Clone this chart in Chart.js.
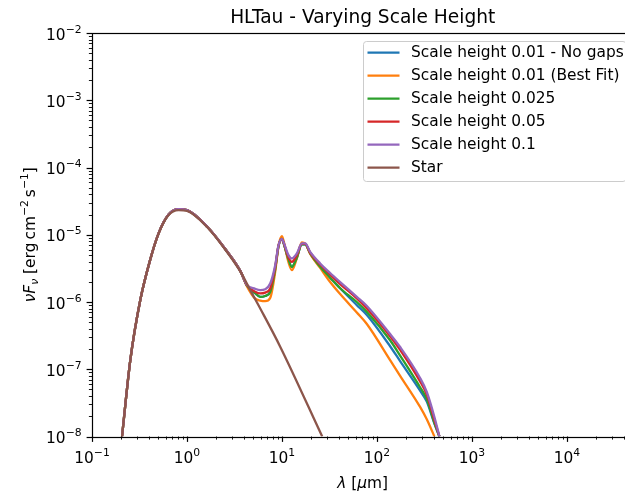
<!DOCTYPE html>
<html><head><meta charset="utf-8">
<script src="https://cdn.jsdelivr.net/npm/chart.js@4.4.1/dist/chart.umd.min.js"></script>
<style>
html,body{margin:0;padding:0;overflow:hidden;background:#fff;}
#wrap{position:relative;width:640px;height:493px;}
</style></head><body>
<div id="wrap"><canvas id="c" width="640" height="493"></canvas></div>
<script>
// ---------- data (wavelength in micron, nuFnu in erg cm^-2 s^-1) ----------
const titleText = 'HLTau - Varying Scale Height';
const seriesLabels = ['Scale height 0.01 - No gaps', 'Scale height 0.01 (Best Fit)', 'Scale height 0.025', 'Scale height 0.05', 'Scale height 0.1', 'Star'];
const seriesColors = ['#1f77b4', '#ff7f0e', '#2ca02c', '#d62728', '#9467bd', '#8c564b'];

const diskLambda = [0.207, 0.253, 0.322, 0.404, 0.502, 0.640, 0.815, 1.0, 1.67, 2.47, 3.64, 4.27, 5.22, 5.90, 6.65, 7.51, 8.48, 9.19, 9.97, 10.37, 11.70, 12.70, 14.34, 16.18, 17.54, 19.80, 25.22, 32.13, 40.94, 61.3, 78.2, 137.4, 175.1, 284.2, 334.2, 402, 454];
const noGapsFlux = [1e-8, 1.36e-7, 1.06e-6, 3.95e-6, 1.05e-5, 2.0e-5, 2.4e-5, 2.33e-5, 1.27e-5, 6.4e-6, 2.9e-6, 1.76e-6, 1.35e-6, 1.19e-6, 1.23e-6, 1.41e-6, 3.1e-6, 6.8e-6, 8.7e-6, 7.6e-6, 4.3e-6, 3.33e-6, 4.6e-6, 7.2e-6, 7.2e-6, 5.3e-6, 3.35e-6, 2.3e-6, 1.6e-6, 9.0e-7, 6.4e-7, 2.2e-7, 1.32e-7, 4.8e-8, 3.3e-8, 1.55e-8, 1e-8];
const bestFitFlux = [1e-8, 1.36e-7, 1.06e-6, 3.95e-6, 1.05e-5, 2.0e-5, 2.4e-5, 2.33e-5, 1.27e-5, 6.4e-6, 2.9e-6, 1.72e-6, 1.12e-6, 1.05e-6, 1.03e-6, 1.15e-6, 2.81e-6, 6.8e-6, 9.5e-6, 8.2e-6, 3.9e-6, 2.97e-6, 4.5e-6, 7.7e-6, 7.4e-6, 5.2e-6, 3.21e-6, 1.98e-6, 1.31e-6, 6.98e-7, 4.71e-7, 1.37e-7, 8.0e-8, 2.75e-8, 1.8e-8, 1e-8, null];
const h025Flux = [1e-8, 1.36e-7, 1.06e-6, 3.95e-6, 1.05e-5, 2.0e-5, 2.4e-5, 2.33e-5, 1.27e-5, 6.4e-6, 2.9e-6, 1.76e-6, 1.35e-6, 1.19e-6, 1.23e-6, 1.41e-6, 3.1e-6, 6.8e-6, 8.7e-6, 7.6e-6, 4.3e-6, 3.33e-6, 4.6e-6, 7.2e-6, 7.2e-6, 5.3e-6, 3.35e-6, 2.3e-6, 1.6e-6, 1.0e-6, 7.13e-7, 2.7e-7, 1.6e-7, 5.4e-8, 3.6e-8, 1.6e-8, 1e-8];
const h05Flux = [1e-8, 1.36e-7, 1.06e-6, 3.95e-6, 1.05e-5, 2.0e-5, 2.4e-5, 2.33e-5, 1.27e-5, 6.4e-6, 2.9e-6, 1.78e-6, 1.42e-6, 1.34e-6, 1.38e-6, 1.59e-6, 3.3e-6, 6.9e-6, 8.7e-6, 7.7e-6, 4.6e-6, 3.95e-6, 4.97e-6, 7.3e-6, 7.3e-6, 5.4e-6, 3.6e-6, 2.55e-6, 1.85e-6, 1.13e-6, 8.0e-7, 3.1e-7, 1.95e-7, 6.6e-8, 4.2e-8, 1.75e-8, 1e-8];
const h1Flux = [1e-8, 1.36e-7, 1.06e-6, 3.95e-6, 1.05e-5, 2.0e-5, 2.4e-5, 2.33e-5, 1.27e-5, 6.4e-6, 2.9e-6, 1.80e-6, 1.57e-6, 1.50e-6, 1.55e-6, 1.88e-6, 3.53e-6, 7.0e-6, 8.7e-6, 7.83e-6, 4.97e-6, 4.44e-6, 5.27e-6, 7.43e-6, 7.43e-6, 5.57e-6, 3.74e-6, 2.70e-6, 1.98e-6, 1.19e-6, 8.72e-7, 3.34e-7, 2.14e-7, 7.41e-8, 4.59e-8, 1.95e-8, 1e-8];

const starLambda = [0.207, 0.253, 0.322, 0.404, 0.502, 0.640, 0.815, 1.0, 1.67, 2.47, 3.64, 4.63, 5.90, 9.6, 26.5];
const starFlux = [1e-8, 1.36e-7, 1.06e-6, 3.95e-6, 1.04e-5, 1.96e-5, 2.32e-5, 2.26e-5, 1.25e-5, 6.3e-6, 2.85e-6, 1.5e-6, 8.0e-7, 2.15e-7, 1e-8];

const xTickExponents = [-1, 0, 1, 2, 3, 4];
const yTickExponents = [-8, -7, -6, -5, -4, -3, -2];
const xRange = [0.1, 5e4];
const yRange = [1e-8, 1e-2];

// ---------- helpers ----------
function pts(xs, ys) {
  const out = [];
  xs.forEach((x, i) => { if (ys[i] !== null) out.push({x: x, y: ys[i]}); });
  return out;
}
const FONT = '"DejaVu Sans", sans-serif';
const FS = 15.4;
const LW = 2.3;

const allSeries = [
  pts(diskLambda, noGapsFlux),
  pts(diskLambda, bestFitFlux),
  pts(diskLambda, h025Flux),
  pts(diskLambda, h05Flux),
  pts(diskLambda, h1Flux),
  pts(starLambda, starFlux)
];

function drawRich(ctx, parts, x, y, align) {
  const fontFor = p => (p.i ? 'italic ' : '') + ((p.sup || p.sub) ? FS * 0.7 : FS) + 'px ' + FONT;
  let w = 0;
  parts.forEach(p => { ctx.font = fontFor(p); p.w = ctx.measureText(p.t).width; w += p.w; });
  let cx = align === 'center' ? x - w / 2 : (align === 'right' ? x - w : x);
  ctx.textBaseline = 'alphabetic';
  ctx.textAlign = 'left';
  parts.forEach(p => {
    ctx.font = fontFor(p);
    let dy = 0;
    if (p.sup) dy = -FS * 0.45;
    if (p.sub) dy = FS * 0.2;
    ctx.fillText(p.t, cx, y + dy);
    cx += p.w;
  });
}
function powParts(e) {
  return [{t: '10'}, {t: (e < 0 ? '\u2212' : '') + Math.abs(e), sup: true}];
}

const decorations = {
  id: 'decorations',
  afterDraw(chart) {
    const {ctx, chartArea: a, scales} = chart;
    const xs = scales.x, ys = scales.y;
    ctx.save();
    ctx.strokeStyle = '#000';
    function seg(x1, y1, x2, y2, lw) { ctx.lineWidth = lw; ctx.beginPath(); ctx.moveTo(x1, y1); ctx.lineTo(x2, y2); ctx.stroke(); }
    for (let e = -1; e <= 4; e++) {
      for (let m = 1; m < 10; m++) {
        const v = m * Math.pow(10, e);
        if (v > xRange[1]) break;
        const px = Math.round(xs.getPixelForValue(v)) + 0.5;
        if (m === 1) seg(px, a.bottom, px, a.bottom + 5.4, 1.2);
        else seg(px, a.bottom, px, a.bottom + 3.1, 0.9);
      }
    }
    for (let e = -8; e <= -2; e++) {
      for (let m = 1; m < 10; m++) {
        const v = m * Math.pow(10, e);
        if (v > yRange[1] * 1.0001) break;
        const py = Math.round(ys.getPixelForValue(v)) + 0.5;
        if (m === 1) seg(a.left, py, a.left - 5.4, py, 1.2);
        else seg(a.left, py, a.left - 3.1, py, 0.9);
      }
    }
    ctx.lineWidth = 1.2;
    ctx.strokeRect(Math.round(a.left) + 0.5, Math.round(a.top) + 0.5, a.right - a.left, Math.round(a.bottom) - Math.round(a.top));
    ctx.fillStyle = '#000';
    xTickExponents.forEach(e => {
      const px = xs.getPixelForValue(Math.pow(10, e));
      drawRich(ctx, powParts(e), px, 463, 'center');
    });
    yTickExponents.forEach(e => {
      const py = ys.getPixelForValue(Math.pow(10, e));
      drawRich(ctx, powParts(e), 81.5, py + 6.5, 'right');
    });
    drawRich(ctx, [{t: '\u03BB', i: true}, {t: ' ['}, {t: '\u03BC', i: true}, {t: 'm]'}], (a.left + a.right) / 2, 488, 'center');
    ctx.save();
    ctx.translate(35, (a.top + a.bottom) / 2);
    ctx.rotate(-Math.PI / 2);
    drawRich(ctx, [{t: '\u03BD', i: true}, {t: 'F', i: true}, {t: '\u03BD', i: true, sub: true}, {t: ' [erg\u2009cm'}, {t: '\u22122', sup: true}, {t: '\u2009s'}, {t: '\u22121', sup: true}, {t: ']'}], 0, 0, 'center');
    ctx.restore();
    const bx = 363.5, by = 41.5, bw = 262.5, bh = 140, r = 3;
    ctx.beginPath();
    ctx.moveTo(bx + r, by); ctx.lineTo(bx + bw - r, by); ctx.arcTo(bx + bw, by, bx + bw, by + r, r);
    ctx.lineTo(bx + bw, by + bh - r); ctx.arcTo(bx + bw, by + bh, bx + bw - r, by + bh, r);
    ctx.lineTo(bx + r, by + bh); ctx.arcTo(bx, by + bh, bx, by + bh - r, r);
    ctx.lineTo(bx, by + r); ctx.arcTo(bx, by, bx + r, by, r); ctx.closePath();
    ctx.fillStyle = 'rgba(255,255,255,0.8)'; ctx.fill();
    ctx.strokeStyle = '#cccccc'; ctx.lineWidth = 1; ctx.stroke();
    chart.data.datasets.forEach((ds, i) => {
      const yy = 52.7 + i * 23.0;
      ctx.strokeStyle = ds.borderColor; ctx.lineWidth = LW;
      ctx.beginPath(); ctx.moveTo(367.5, yy); ctx.lineTo(399.5, yy); ctx.stroke();
      ctx.fillStyle = '#000'; ctx.font = FS + 'px ' + FONT; ctx.textBaseline = 'middle'; ctx.textAlign = 'left';
      ctx.fillText(ds.label, 411, yy);
    });
    ctx.restore();
  }
};

new Chart(document.getElementById('c'), {
  type: 'line',
  data: {
    datasets: seriesLabels.map((lab, i) => ({
      label: lab,
      data: allSeries[i],
      borderColor: seriesColors[i],
      backgroundColor: seriesColors[i],
      borderWidth: LW,
      pointRadius: 0,
      fill: false,
      cubicInterpolationMode: 'monotone',
      borderJoinStyle: 'round',
      order: 6 - i
    }))
  },
  options: {
    responsive: false,
    animation: false,
    devicePixelRatio: 1,
    layout: {padding: {left: 0, right: 6.6, top: 0, bottom: 0}},
    plugins: {
      legend: {display: false},
      tooltip: {enabled: false},
      title: {
        display: true, text: titleText, fullSize: false, color: '#000',
        font: {family: FONT, size: 18.6, weight: 'normal', lineHeight: 1.2},
        padding: {top: 7.2, bottom: 3.48}
      }
    },
    scales: {
      x: {
        type: 'logarithmic', min: xRange[0], max: xRange[1],
        grid: {display: false, drawTicks: false}, border: {display: false},
        afterFit: s => { s.height = 493 - 436.5; },
        ticks: {display: false}
      },
      y: {
        type: 'logarithmic', min: yRange[0], max: yRange[1],
        grid: {display: false, drawTicks: false}, border: {display: false},
        afterFit: s => { s.width = 92; },
        ticks: {display: false}
      }
    }
  },
  plugins: [decorations]
});
</script>
</body></html>
